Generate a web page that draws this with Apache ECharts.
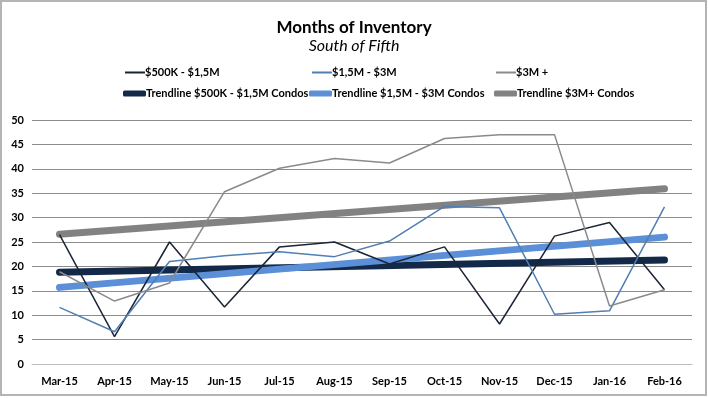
<!DOCTYPE html>
<html>
<head>
<meta charset="utf-8">
<script src="https://cdn.jsdelivr.net/npm/echarts@6/dist/echarts.min.js"></script>
<style>
  body { margin: 0; background: #fff; }
  #chart { width: 708px; height: 398px; }
</style>
</head>
<body>
<div id="chart"></div>
<script>
var months = ['Mar-15', 'Apr-15', 'May-15', 'Jun-15', 'Jul-15', 'Aug-15',
  'Sep-15', 'Oct-15', 'Nov-15', 'Dec-15', 'Jan-16', 'Feb-16'];

// values
var low = [26.5, 5.6, 25, 11.7, 24, 25, 20.5, 24, 8.2, 26.2, 29, 15.2];
var mid = [11.6, 6.6, 21, 22.2, 23, 22, 25.2, 32.3, 32, 10.2, 10.9, 32.2];
var high = [18.9, 12.9, 16.6, 35.3, 40.1, 42.1, 41.2, 46.2, 47, 47, 11.9, 15.2];

// trendlines: first and last month only, the line joins them
var lowTrend = [18.8, null, null, null, null, null, null, null, null, null, null, 21.3];
var midTrend = [15.7, null, null, null, null, null, null, null, null, null, null, 26.0];
var highTrend = [26.6, null, null, null, null, null, null, null, null, null, null, 35.9];

var yTicks = [0, 5, 10, 15, 20, 25, 30, 35, 40, 45, 50];

var font = 'Lato, "Open Sans", sans-serif';
var chart = echarts.init(document.getElementById('chart'));

// one legend per item so each sits where the original has it
function legendAt(name, left, top, thick) {
  return {
    data: [{ name: name, icon: thick ? 'roundRect' : 'rect' }],
    left: left,
    top: top,
    padding: 0,
    itemWidth: thick ? 23 : 20,
    itemHeight: thick ? 6 : 2,
    itemGap: 0,
    textStyle: { fontFamily: font, fontWeight: 'bold', fontSize: 11, color: '#000', padding: [0, 0, 0, -5] }
  };
}

function thin(name, data, color) {
  return {
    name: name, type: 'line', data: data,
    symbol: 'none', lineStyle: { width: 1.5, color: color }, itemStyle: { color: color },
    z: 3
  };
}
function trend(name, data, color) {
  return {
    name: name, type: 'line', data: data, connectNulls: true,
    symbol: 'none', lineStyle: { width: 7, color: color, cap: 'round' }, itemStyle: { color: color },
    z: 2
  };
}

var option = {
  animation: false,
  title: [
    { text: 'Months of Inventory', left: 'center', top: 14,
      textStyle: { fontFamily: font, fontWeight: 'bold', fontSize: 17, color: '#000' } },
    { text: 'South of Fifth', left: 'center', top: 33,
      textStyle: { fontFamily: font, fontStyle: 'italic', fontWeight: 'normal', fontSize: 16, color: '#000' } }
  ],
  graphic: [{
    type: 'rect', shape: { x: 1, y: 1, width: 705, height: 394 },
    style: { fill: 'none', stroke: '#b4b4b4', lineWidth: 2 }, silent: true
  }],
  legend: [
    legendAt('$500K - $1,5M', 125, 67, false),
    legendAt('$1,5M - $3M', 312, 67, false),
    legendAt('$3M +', 496, 67, false),
    legendAt('Trendline $500K - $1,5M Condos', 123, 88, true),
    legendAt('Trendline $1,5M - $3M Condos', 309, 88, true),
    legendAt('Trendline $3M+ Condos', 494, 88, true)
  ],
  grid: { left: 32, right: 16, top: 120, bottom: 34 },
  xAxis: {
    type: 'category', data: months, boundaryGap: true,
    axisLine: { lineStyle: { color: '#bdbdbd', width: 1 } },
    axisTick: { show: false },
    axisLabel: { fontFamily: font, fontWeight: 'bold', fontSize: 11, color: '#000', margin: 12 }
  },
  yAxis: {
    type: 'value', min: yTicks[0], max: yTicks[yTicks.length - 1], interval: 5,
    axisLine: { show: false }, axisTick: { show: false },
    axisLabel: { fontFamily: font, fontWeight: 'bold', fontSize: 11, color: '#000', margin: 8 },
    splitLine: { lineStyle: { color: '#8c8c8c', width: 1 } }
  },
  series: [
    thin('$500K - $1,5M', low, '#1a2535'),
    thin('$1,5M - $3M', mid, '#4f7fb3'),
    thin('$3M +', high, '#8a8a8a'),
    trend('Trendline $500K - $1,5M Condos', lowTrend, '#13294a'),
    trend('Trendline $1,5M - $3M Condos', midTrend, '#5b8fd8'),
    trend('Trendline $3M+ Condos', highTrend, '#828282')
  ]
};

chart.setOption(option);
</script>
</body>
</html>
